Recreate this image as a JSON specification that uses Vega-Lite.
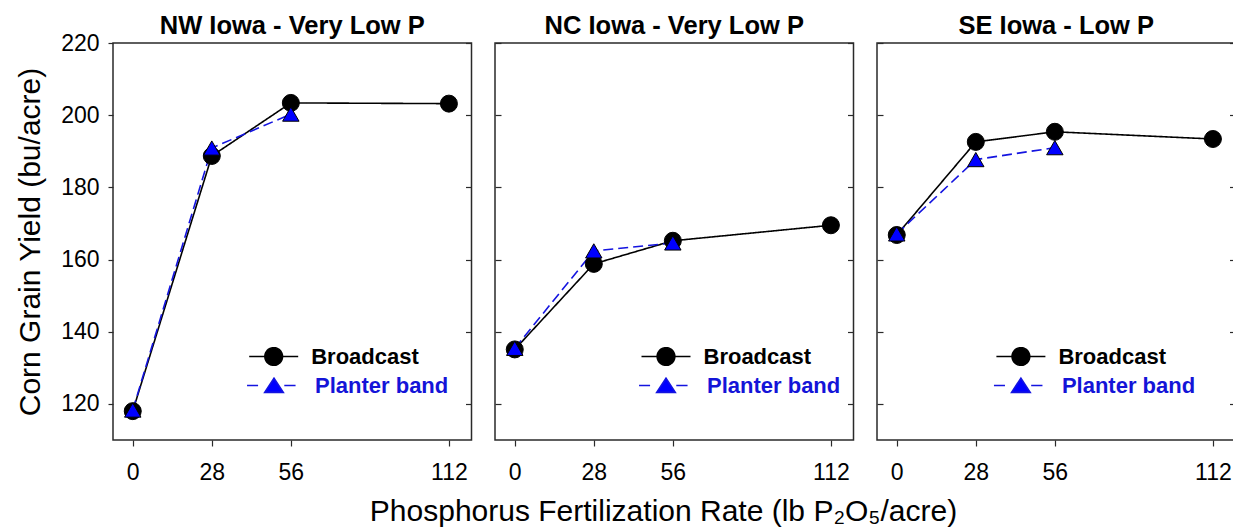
{
  "$schema": "https://vega.github.io/schema/vega-lite/v6.json",
  "padding": {"left": 14, "top": 12, "right": 0, "bottom": 0},
  "background": "white",
  "config": {
    "font": "Liberation Sans",
    "view": {"stroke": "#2a2a2a", "strokeWidth": 1.5},
    "axis": {"grid": false, "domain": false, "tickColor": "#2a2a2a", "tickWidth": 1.2, "labelFont": "Liberation Sans", "labelColor": "#000", "labelFontSize": 23, "titleFont": "Liberation Sans", "titleColor": "#000", "titleFontWeight": "normal", "titleFontSize": 30},
    "title": {"font": "Liberation Sans", "fontSize": 25.5, "fontWeight": "bold", "color": "#000", "frame": "group", "baseline": "alphabetic", "offset": 3.3},
    "legend": {"labelFont": "Liberation Sans", "labelFontSize": 22, "labelFontWeight": "bold", "symbolSize": 2401, "symbolStrokeWidth": 1.6, "labelOffset": 12, "orient": "none", "title": null}
  },
  "datasets": {
    "yield": [
      {"site": "NW", "method": "Broadcast", "rate": 0, "yield": 118.0},
      {"site": "NW", "method": "Broadcast", "rate": 28, "yield": 188.7},
      {"site": "NW", "method": "Broadcast", "rate": 56, "yield": 203.4},
      {"site": "NW", "method": "Broadcast", "rate": 112, "yield": 203.2},
      {"site": "NW", "method": "Planter band", "rate": 0, "yield": 118.3},
      {"site": "NW", "method": "Planter band", "rate": 28, "yield": 190.9},
      {"site": "NW", "method": "Planter band", "rate": 56, "yield": 200.3},
      {"site": "NC", "method": "Broadcast", "rate": 0, "yield": 135.1},
      {"site": "NC", "method": "Broadcast", "rate": 28, "yield": 158.8},
      {"site": "NC", "method": "Broadcast", "rate": 56, "yield": 165.2},
      {"site": "NC", "method": "Broadcast", "rate": 112, "yield": 169.5},
      {"site": "NC", "method": "Planter band", "rate": 0, "yield": 135.4},
      {"site": "NC", "method": "Planter band", "rate": 28, "yield": 162.4},
      {"site": "NC", "method": "Planter band", "rate": 56, "yield": 164.6},
      {"site": "SE", "method": "Broadcast", "rate": 0, "yield": 166.8},
      {"site": "SE", "method": "Broadcast", "rate": 28, "yield": 192.6},
      {"site": "SE", "method": "Broadcast", "rate": 56, "yield": 195.4},
      {"site": "SE", "method": "Broadcast", "rate": 112, "yield": 193.4},
      {"site": "SE", "method": "Planter band", "rate": 0, "yield": 167.1},
      {"site": "SE", "method": "Planter band", "rate": 28, "yield": 187.7},
      {"site": "SE", "method": "Planter band", "rate": 56, "yield": 191.0}
    ]
  },
  "spacing": 23,
  "bounds": "flush",
  "resolve": {"scale": {"color": "independent", "strokeDash": "independent"}, "legend": {"color": "independent", "strokeDash": "independent"}},
  "hconcat": [
    {
      "title": {"text": "NW Iowa - Very Low P", "offset": -7.7},
      "width": 358.5,
      "height": 397,
      "data": {"name": "yield"},
      "transform": [{"filter": "datum.site == 'NW'"}],
      "resolve": {"scale": {"y": "independent"}},
      "layer": [
        {
          "mark": {"type": "line", "strokeWidth": 1.6},
          "encoding": {
            "x": {"field": "rate", "type": "quantitative", "scale": {"domain": [-7, 120], "nice": false, "zero": false},
                  "axis": {"values": [0, 28, 56, 112], "tickSize": 6, "labelPadding": 15, "labelFlush": false, "labelOverlap": false, "title": null}},
            "y": {"field": "yield", "type": "quantitative", "scale": {"domain": [110, 220], "nice": false, "zero": false},
                  "axis": {"orient": "left", "values": [120, 140, 160, 180, 200, 220], "tickSize": 5, "labelPadding": 9, "labelFlush": false, "labelOverlap": false, "title": "Corn Grain Yield (bu/acre)", "titlePadding": 15}},
            "color": {"field": "method", "type": "nominal", "scale": {"domain": ["Broadcast", "Planter band"], "range": ["#000000", "#1414e0"]},
                      "legend": {"values": ["Planter band"], "legendX": 135.5, "legendY": 317, "labelOffset": 15.5, "symbolType": "M-1.1,0H-0.65M0.42,0H0.88M0,-0.3L0.38,0.28L-0.38,0.28Z", "symbolFillColor": "#0000ff", "labelColor": "#1414d8"}},
            "strokeDash": {"field": "method", "type": "nominal", "scale": {"domain": ["Planter band", "Broadcast"], "range": [[10, 5], [1, 0]]},
                      "legend": {"values": ["Broadcast"], "legendX": 135.2, "legendY": 288, "symbolType": "M-1,0H1M0.36,0A0.36,0.36,0,1,1,-0.36,0A0.36,0.36,0,1,1,0.36,0Z", "symbolFillColor": "#000000", "symbolStrokeColor": "#000000", "labelColor": "#000000"}}
          }
        },
        {
          "mark": {"type": "point", "filled": true, "stroke": "#000", "strokeWidth": 1, "opacity": 1},
          "encoding": {
            "x": {"field": "rate", "type": "quantitative"},
            "y": {"field": "yield", "type": "quantitative", "scale": {"domain": [110, 220], "nice": false, "zero": false}, "axis": null},
            "fill": {"field": "method", "type": "nominal", "scale": {"domain": ["Broadcast", "Planter band"], "range": ["#000000", "#0000ff"]}, "legend": null},
            "shape": {"field": "method", "type": "nominal", "scale": {"domain": ["Broadcast", "Planter band"], "range": ["circle", "triangle-up"]}, "legend": null},
            "size": {"field": "method", "type": "nominal", "scale": {"domain": ["Broadcast", "Planter band"], "range": [289, 270]}, "legend": null}
          }
        },
        {
          "mark": {"type": "point", "opacity": 0},
          "encoding": {
            "y": {"field": "yield", "type": "quantitative", "scale": {"domain": [110, 220], "nice": false, "zero": false},
                  "axis": {"orient": "right", "values": [120, 140, 160, 180, 200, 220], "tickSize": 6, "offset": -6, "labels": false, "title": null}}
          }
        }
      ]
    },
    {
      "title": {"text": "NC Iowa - Very Low P"},
      "width": 358.5,
      "height": 397,
      "data": {"name": "yield"},
      "transform": [{"filter": "datum.site == 'NC'"}],
      "resolve": {"scale": {"y": "independent"}},
      "layer": [
        {
          "mark": {"type": "line", "strokeWidth": 1.6},
          "encoding": {
            "x": {"field": "rate", "type": "quantitative", "scale": {"domain": [-7, 120], "nice": false, "zero": false},
                  "axis": {"values": [0, 28, 56, 112], "tickSize": 6, "labelPadding": 15, "labelFlush": false, "labelOverlap": false, "title": "Phosphorus Fertilization Rate (lb P₂O₅/acre)", "titlePadding": 12, "titleX": 168}},
            "y": {"field": "yield", "type": "quantitative", "scale": {"domain": [110, 220], "nice": false, "zero": false},
                  "axis": {"orient": "left", "values": [120, 140, 160, 180, 200, 220], "tickSize": 6, "offset": -6, "labels": false, "title": null}},
            "color": {"field": "method", "type": "nominal", "scale": {"domain": ["Broadcast", "Planter band"], "range": ["#000000", "#1414e0"]},
                      "legend": {"values": ["Planter band"], "legendX": 145.5, "legendY": 317, "labelOffset": 15.5, "symbolType": "M-1.1,0H-0.65M0.42,0H0.88M0,-0.3L0.38,0.28L-0.38,0.28Z", "symbolFillColor": "#0000ff", "labelColor": "#1414d8"}},
            "strokeDash": {"field": "method", "type": "nominal", "scale": {"domain": ["Planter band", "Broadcast"], "range": [[10, 5], [1, 0]]},
                      "legend": {"values": ["Broadcast"], "legendX": 145.5, "legendY": 288, "symbolType": "M-1,0H1M0.36,0A0.36,0.36,0,1,1,-0.36,0A0.36,0.36,0,1,1,0.36,0Z", "symbolFillColor": "#000000", "symbolStrokeColor": "#000000", "labelColor": "#000000"}}
          }
        },
        {
          "mark": {"type": "point", "filled": true, "stroke": "#000", "strokeWidth": 1, "opacity": 1},
          "encoding": {
            "x": {"field": "rate", "type": "quantitative"},
            "y": {"field": "yield", "type": "quantitative", "scale": {"domain": [110, 220], "nice": false, "zero": false}, "axis": null},
            "fill": {"field": "method", "type": "nominal", "scale": {"domain": ["Broadcast", "Planter band"], "range": ["#000000", "#0000ff"]}, "legend": null},
            "shape": {"field": "method", "type": "nominal", "scale": {"domain": ["Broadcast", "Planter band"], "range": ["circle", "triangle-up"]}, "legend": null},
            "size": {"field": "method", "type": "nominal", "scale": {"domain": ["Broadcast", "Planter band"], "range": [289, 270]}, "legend": null}
          }
        },
        {
          "mark": {"type": "point", "opacity": 0},
          "encoding": {
            "y": {"field": "yield", "type": "quantitative", "scale": {"domain": [110, 220], "nice": false, "zero": false},
                  "axis": {"orient": "right", "values": [120, 140, 160, 180, 200, 220], "tickSize": 6, "offset": -6, "labels": false, "title": null}}
          }
        }
      ]
    },
    {
      "title": {"text": "SE Iowa - Low P"},
      "width": 358.5,
      "height": 397,
      "data": {"name": "yield"},
      "transform": [{"filter": "datum.site == 'SE'"}],
      "resolve": {"scale": {"y": "independent"}},
      "layer": [
        {
          "mark": {"type": "line", "strokeWidth": 1.6},
          "encoding": {
            "x": {"field": "rate", "type": "quantitative", "scale": {"domain": [-7, 120], "nice": false, "zero": false},
                  "axis": {"values": [0, 28, 56, 112], "tickSize": 6, "labelPadding": 15, "labelFlush": false, "labelOverlap": false, "title": null}},
            "y": {"field": "yield", "type": "quantitative", "scale": {"domain": [110, 220], "nice": false, "zero": false},
                  "axis": {"orient": "left", "values": [120, 140, 160, 180, 200, 220], "tickSize": 6, "offset": -6, "labels": false, "title": null}},
            "color": {"field": "method", "type": "nominal", "scale": {"domain": ["Broadcast", "Planter band"], "range": ["#000000", "#1414e0"]},
                      "legend": {"values": ["Planter band"], "legendX": 118.4, "legendY": 317, "labelOffset": 15.5, "symbolType": "M-1.1,0H-0.65M0.42,0H0.88M0,-0.3L0.38,0.28L-0.38,0.28Z", "symbolFillColor": "#0000ff", "labelColor": "#1414d8"}},
            "strokeDash": {"field": "method", "type": "nominal", "scale": {"domain": ["Planter band", "Broadcast"], "range": [[10, 5], [1, 0]]},
                      "legend": {"values": ["Broadcast"], "legendX": 118.4, "legendY": 288, "symbolType": "M-1,0H1M0.36,0A0.36,0.36,0,1,1,-0.36,0A0.36,0.36,0,1,1,0.36,0Z", "symbolFillColor": "#000000", "symbolStrokeColor": "#000000", "labelColor": "#000000"}}
          }
        },
        {
          "mark": {"type": "point", "filled": true, "stroke": "#000", "strokeWidth": 1, "opacity": 1},
          "encoding": {
            "x": {"field": "rate", "type": "quantitative"},
            "y": {"field": "yield", "type": "quantitative", "scale": {"domain": [110, 220], "nice": false, "zero": false}, "axis": null},
            "fill": {"field": "method", "type": "nominal", "scale": {"domain": ["Broadcast", "Planter band"], "range": ["#000000", "#0000ff"]}, "legend": null},
            "shape": {"field": "method", "type": "nominal", "scale": {"domain": ["Broadcast", "Planter band"], "range": ["circle", "triangle-up"]}, "legend": null},
            "size": {"field": "method", "type": "nominal", "scale": {"domain": ["Broadcast", "Planter band"], "range": [289, 270]}, "legend": null}
          }
        },
        {
          "mark": {"type": "point", "opacity": 0},
          "encoding": {
            "y": {"field": "yield", "type": "quantitative", "scale": {"domain": [110, 220], "nice": false, "zero": false},
                  "axis": {"orient": "right", "values": [120, 140, 160, 180, 200, 220], "tickSize": 6, "offset": -6, "labels": false, "title": null}}
          }
        }
      ]
    }
  ]
}
